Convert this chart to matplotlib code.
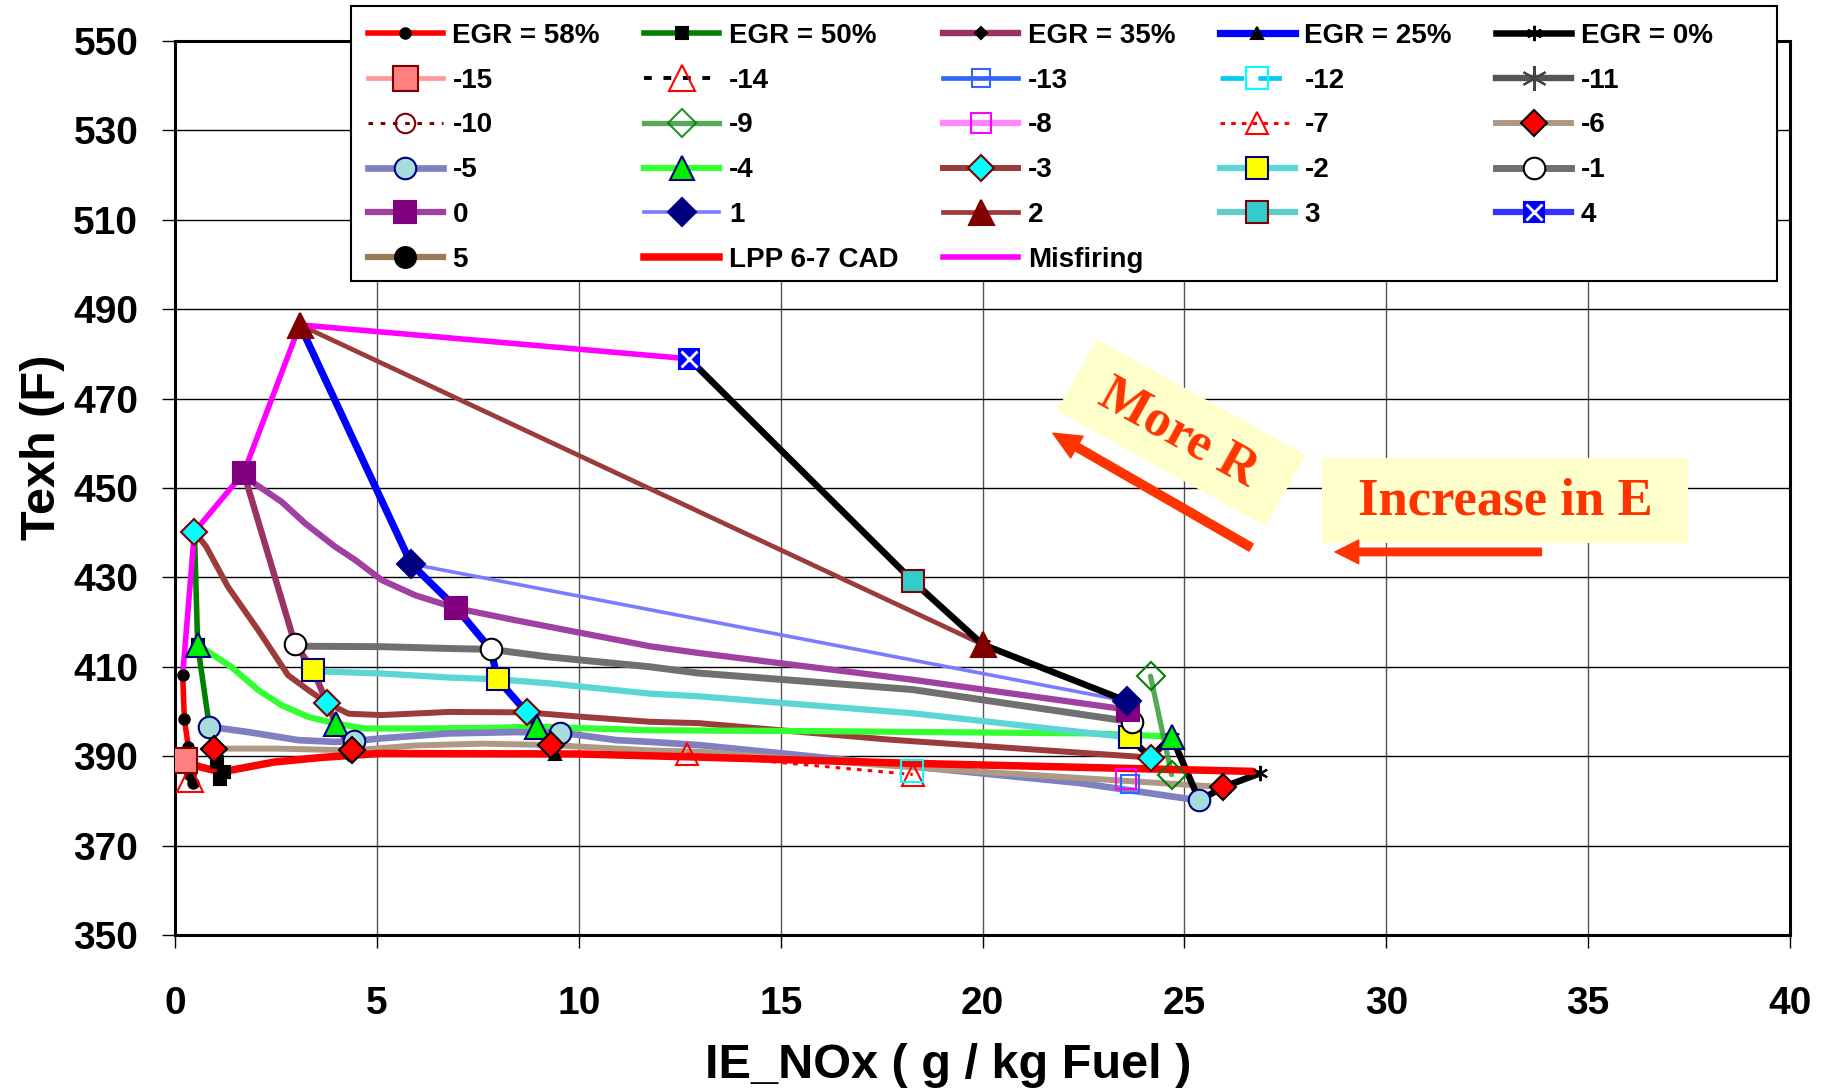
import numpy as np
import matplotlib
matplotlib.use("Agg")
import matplotlib.pyplot as plt
from matplotlib.lines import Line2D
from matplotlib.patches import Rectangle
from matplotlib.transforms import Affine2D

plt.rcParams['font.family'] = ['Liberation Sans', 'DejaVu Sans']
plt.rcParams['font.weight'] = 'bold'
plt.rcParams['axes.labelweight'] = 'bold'

# ---- EGR sweeps (constant EGR, timing varies) ----
egr58_x = [0.19, 0.23, 0.33, 0.38, 0.45]
egr58_y = [408.2, 398.4, 392.0, 385.7, 384.1]
egr50_x = [0.48, 0.56, 0.85, 0.97, 1.03, 1.22, 1.12]
egr50_y = [440.2, 414.9, 396.6, 391.7, 388.7, 386.5, 385.0]
egr35_x = [1.70, 2.97, 3.42, 3.76, 3.98, 4.39, 4.30]
egr35_y = [453.4, 415.1, 409.3, 401.9, 397.3, 391.3, 390.2]
egr25_x = [3.09, 5.85, 6.97, 7.82, 7.99, 8.71, 8.96, 9.30, 9.42]
egr25_y = [486.5, 433.0, 423.1, 413.9, 407.2, 399.8, 396.6, 392.5, 390.6]
egr0_x = [12.73, 18.27, 20.0, 23.58, 23.60, 23.69, 23.64, 24.16, 24.68, 25.37, 25.96, 26.88]
egr0_y = [478.9, 429.2, 415.0, 402.3, 400.4, 397.7, 394.2, 389.7, 394.4, 380.1, 383.1, 386.2]

lpp_x = [0.2, 0.62, 1.03, 1.4, 2.46, 3.6, 5.03, 10.0, 12.96, 18.27, 26.7]
lpp_y = [389.2, 387.6, 386.7, 386.9, 388.7, 389.7, 390.6, 390.5, 389.8, 388.4, 386.6]
misfire_x = [0.19, 0.48, 1.70, 3.09, 12.73]
misfire_y = [408.2, 440.2, 453.4, 486.5, 478.9]

# ---- timing lines (marker only where they meet an EGR sweep) ----
t_m3_x = [0.48, 0.77, 1.31, 2.06, 2.80, 3.30, 3.76, 4.3, 5.12, 6.78, 8.71, 10.1, 11.76, 12.96, 17.7, 24.16]
t_m3_y = [440.2, 436.9, 427.9, 418.2, 408.1, 404.8, 401.9, 399.5, 399.2, 399.9, 399.8, 398.8, 397.7, 397.4, 393.7, 389.7]
t_m3_mk = [0, 6, 10, 15]
t_m4_x = [0.56, 1.02, 1.39, 2.06, 2.64, 3.3, 3.98, 4.71, 5.95, 7.61, 8.96, 11.76, 16.0, 22.7, 24.68]
t_m4_y = [414.9, 412.2, 410.0, 404.8, 401.4, 398.8, 397.3, 396.2, 396.2, 396.3, 396.6, 395.8, 395.6, 395.1, 394.4]
t_m4_mk = [0, 6, 10, 14]
t_m5_x = [0.85, 1.81, 3.05, 3.96, 4.44, 5.12, 6.78, 8.44, 9.54, 10.93, 11.76, 12.96, 18.27, 22.4, 25.37]
t_m5_y = [396.6, 395.4, 393.6, 393.2, 393.4, 394.0, 395.1, 395.4, 395.3, 393.6, 393.2, 392.5, 387.7, 384.0, 380.1]
t_m5_mk = [0, 4, 8, 14]
t_m6_x = [0.97, 2.5, 4.39, 5.95, 7.61, 9.3, 11.76, 12.96, 18.6, 25.96]
t_m6_y = [391.7, 391.7, 391.3, 392.4, 392.8, 392.5, 391.3, 391.0, 387.3, 383.1]
t_m6_mk = [0, 2, 5, 9]
t_m2_x = [3.42, 3.8, 5.12, 6.78, 7.99, 9.27, 11.76, 12.96, 18.27, 23.64]
t_m2_y = [409.3, 408.9, 408.5, 407.6, 407.2, 406.3, 404.0, 403.4, 399.6, 394.2]
t_m2_mk = [0, 4, 9]
t_m1_x = [2.97, 3.22, 5.12, 6.78, 7.82, 9.27, 11.76, 12.96, 18.27, 23.69]
t_m1_y = [415.1, 414.6, 414.5, 414.1, 413.9, 412.2, 410.0, 408.6, 404.9, 397.7]
t_m1_mk = [0, 4, 9]
t_0_x = [1.70, 1.97, 2.64, 3.22, 3.96, 4.46, 5.12, 5.95, 6.97, 8.44, 10.1, 11.76, 12.96, 18.27, 23.6]
t_0_y = [453.4, 451.0, 446.9, 442.1, 436.9, 433.9, 429.4, 426.0, 423.1, 420.4, 417.5, 414.6, 413.1, 407.1, 400.4]
t_0_mk = [0, 8, 14]
t_1_x = [5.85, 23.58]
t_1_y = [433.0, 402.3]
t_2_x = [3.09, 20.0]
t_2_y = [486.5, 415.0]
t_3_x, t_3_y = [18.27], [429.2]
t_4_x, t_4_y = [12.73], [478.9]
t_m7_x, t_m7_y = [12.67, 18.27], [390.5, 385.9]
t_m8_x, t_m8_y = [23.55], [385.0]
t_m9_x, t_m9_y = [24.16, 24.68], [407.9, 385.9]
t_m12_x, t_m12_y = [18.25], [386.8]
t_m13_x, t_m13_y = [23.65], [383.7]
t_m14_x, t_m14_y = [0.38], [385.0]
t_m15_x, t_m15_y = [0.21], [389.1]

legend_labels = ['EGR = 58%', 'EGR = 50%', 'EGR = 35%', 'EGR = 25%', 'EGR = 0%',
                 '-15', '-14', '-13', '-12', '-11',
                 '-10', '-9', '-8', '-7', '-6',
                 '-5', '-4', '-3', '-2', '-1',
                 '0', '1', '2', '3', '4',
                 '5', 'LPP 6-7 CAD', 'Misfiring']

STAR = (6, 2, 0)


def draw(ax, x, y, color, lw, marker=None, marks=None, ms=10, mfc=None, mec=None,
         mew=1.5, ls='-', zl=2, zm=5, alpha=1.0):
    """ Draw a line, then its markers on top; return a legend handle. """
    if x is not None:
        ax.plot(x, y, color=color, lw=lw, ls=ls, zorder=zl, alpha=alpha,
                solid_joinstyle='round', solid_capstyle='round')
        if marker is not None:
            idx = marks if marks is not None else range(len(x))
            ax.plot(np.take(x, idx), np.take(y, idx), ls='none', marker=marker, ms=ms,
                    mfc=mfc, mec=mec, mew=mew, zorder=zm)
    return Line2D([], [], color=color, lw=lw, ls=ls, marker=marker, ms=ms,
                  mfc=mfc, mec=mec, mew=mew, alpha=alpha)


fig = plt.figure(figsize=(18.33, 10.9), dpi=100)
ax = fig.add_axes([0.0955, 0.1422, 0.8811, 0.8202])

h = {}
# timing lines
h['-3'] = draw(ax, t_m3_x, t_m3_y, '#9B3B3B', 4.3, 'D', t_m3_mk, 13, '#00FFFF', '#800000')
h['-4'] = draw(ax, t_m4_x, t_m4_y, '#33FF33', 4.5, '^', t_m4_mk, 17, '#00EE00', '#000080')
h['-5'] = draw(ax, t_m5_x, t_m5_y, '#8080C0', 4.8, 'o', t_m5_mk, 15.5, '#A6DCDC', '#000080')
h['-6'] = draw(ax, t_m6_x, t_m6_y, '#AE9A84', 4.3, 'D', t_m6_mk, 13.5, '#FF0000', '#000000')
h['-2'] = draw(ax, t_m2_x, t_m2_y, '#5CD5D5', 4.5, 's', t_m2_mk, 16, '#FFFF00', '#000080')
h['-1'] = draw(ax, t_m1_x, t_m1_y, '#707070', 5.0, 'o', t_m1_mk, 15.5, '#FFFFFF', '#000000')
h['0'] = draw(ax, t_0_x, t_0_y, '#A040A0', 4.5, 's', t_0_mk, 16.5, '#800080', '#800080')
h['1'] = draw(ax, t_1_x, t_1_y, '#7B7BFF', 2.6, 'D', None, 14, '#000080', '#000080')
h['2'] = draw(ax, t_2_x, t_2_y, '#9B3B3B', 3.4, '^', None, 18, '#800000', '#800000')
h['3'] = draw(ax, t_3_x, t_3_y, '#5CCCCC', 4.5, 's', None, 16, '#33CCCC', '#800000')
sq4 = draw(ax, t_4_x, t_4_y, '#3333FF', 4.5, 's', None, 15, '#0000FF', '#0000FF', zm=5)
x4 = draw(ax, t_4_x, t_4_y, '#3333FF', 0, 'x', None, 11, 'white', 'white', mew=2, zm=6)
h['4'] = (sq4, x4)
h['5'] = draw(ax, None, None, '#9A7B55', 4.5, 'o', None, 15, '#000000', '#000000')
h['-7'] = draw(ax, t_m7_x, t_m7_y, '#FF0000', 2.2, '^', None, 16, 'none', '#FF0000', ls=(0, (1.5, 2)))
h['-8'] = draw(ax, t_m8_x, t_m8_y, '#FF88FF', 4.6, 's', None, 15, 'none', '#FF00FF')
h['-9'] = draw(ax, t_m9_x, t_m9_y, '#3A9A3A', 3.8, 'D', None, 14, 'none', '#008000', alpha=0.85)
h['-10'] = draw(ax, None, None, '#800000', 2.2, 'o', None, 14, 'none', '#800000', ls=(0, (1.5, 2.5)))
h['-11'] = draw(ax, None, None, '#555555', 4.6, STAR, None, 18, '#444444', '#444444')
h['-12'] = draw(ax, t_m12_x, t_m12_y, '#00CCEE', 3.4, 's', None, 16, 'none', '#00FFFF', ls=(0, (5, 3)))
h['-13'] = draw(ax, t_m13_x, t_m13_y, '#3366FF', 3.4, 's', None, 13, 'none', '#3366FF')
h['-14'] = draw(ax, t_m14_x, t_m14_y, '#000000', 2.8, '^', None, 19, 'none', '#FF0000', ls=(0, (2, 3)))
h['-15'] = draw(ax, t_m15_x, t_m15_y, '#FF9999', 3.4, 's', None, 18, '#FF8080', '#800000')

# EGR sweeps
h['EGR = 58%'] = draw(ax, egr58_x, egr58_y, '#FF0000', 4.0, 'o', None, 7.5, '#000000', '#000000', zl=3, zm=3.5)
h['EGR = 50%'] = draw(ax, egr50_x, egr50_y, '#008000', 4.0, 's', None, 8.5, '#000000', '#000000', zl=3, zm=3.5)
h['EGR = 35%'] = draw(ax, egr35_x, egr35_y, '#993366', 4.6, 'D', None, 6, '#000000', '#000000', zl=3, zm=3.5)
h['EGR = 25%'] = draw(ax, egr25_x, egr25_y, '#0000FF', 5.2, '^', None, 9, '#000000', '#000000', zl=3, zm=3.5)
h['EGR = 0%'] = draw(ax, egr0_x, egr0_y, '#000000', 4.7, STAR, None, 11, '#000000', '#000000', zl=3, zm=3.5)
h['LPP 6-7 CAD'] = draw(ax, lpp_x, lpp_y, '#FF0000', 5.4, zl=3.2)
h['Misfiring'] = draw(ax, misfire_x, misfire_y, '#FF00FF', 4.0, zl=3.1)

ax.set_xlim(0, 40)
ax.set_ylim(350, 550)
ax.set_xticks(np.arange(0, 41, 5))
ax.set_yticks(np.arange(350, 551, 20))
ax.grid(axis='y', color='black', lw=1.0)
ax.grid(axis='x', color='#555555', lw=1.0)
ax.set_axisbelow(True)
ax.tick_params(axis='both', direction='out', length=9.5, width=1.0, labelsize=28)
ax.tick_params(axis='x', pad=27)
ax.tick_params(axis='y', pad=17)
for s in ax.spines.values():
    s.set_linewidth(2.2)

ax.set_xlabel('IE_NOx ( g / kg Fuel )', fontsize=35)
ax.xaxis.set_label_coords(0.4786, -0.121)
ax.set_ylabel('Texh (F)', fontsize=35)
ax.yaxis.set_label_coords(-0.068, 0.546)

# annotations
cx, cy = ax.transData.transform((24.92, 462.35))
box = Rectangle((-119.5, -41), 239, 82, transform=Affine2D().rotate_deg(-29).translate(cx, cy),
                fc='#FFFFCC', ec='none', zorder=6)
ax.add_patch(box)
ax.text(24.85, 462.2, 'More R', rotation=-29, rotation_mode='anchor', ha='center', va='center',
        fontsize=38, family='Liberation Serif', weight='bold', color='#FF3300', zorder=7)
ax.add_patch(Rectangle((28.41, 437.8), 9.06, 19.0, fc='#FFFFCC', ec='none', zorder=6))
ax.text(32.94, 447.0, 'Increase in E', ha='center', va='center',
        fontsize=38, family='Liberation Serif', weight='bold', color='#FF3300', zorder=7)
ax.annotate('', xy=(21.74, 462.26), xytext=(26.65, 436.7), zorder=7,
            arrowprops=dict(arrowstyle='simple,head_length=1.0,head_width=0.9,tail_width=0.3',
                            color='#FF3300', mutation_scale=20, shrinkA=0, shrinkB=0))
ax.annotate('', xy=(28.73, 435.7), xytext=(33.84, 435.7), zorder=7,
            arrowprops=dict(arrowstyle='simple,head_length=0.85,head_width=0.85,tail_width=0.27',
                            color='#FF3300', mutation_scale=20, shrinkA=0, shrinkB=0))

# legend frame drawn separately so the columns can keep a fixed spacing
fig.patches.append(Rectangle((0.1915, 0.7422), 0.778, 0.2523, transform=fig.transFigure,
                             fc='white', ec='black', lw=1.5, zorder=4))

# legend: row-major order in the picture, matplotlib fills column-major
ncol = 5
nrow = int(np.ceil(len(legend_labels) / ncol))
order = [r * ncol + c for c in range(ncol) for r in range(nrow) if r * ncol + c < len(legend_labels)]
leg = fig.legend([h[legend_labels[i]] for i in order], [legend_labels[i] for i in order],
                 ncol=ncol, loc='upper left', bbox_to_anchor=(0.1915, 0.9945),
                 borderaxespad=0., fontsize=20, handlelength=2.7, columnspacing=1.6,
                 handletextpad=0.35, labelspacing=0.68, borderpad=0.6, numpoints=1,
                 frameon=False)
leg.set_zorder(5)

fig.savefig('out.png', dpi=100)
